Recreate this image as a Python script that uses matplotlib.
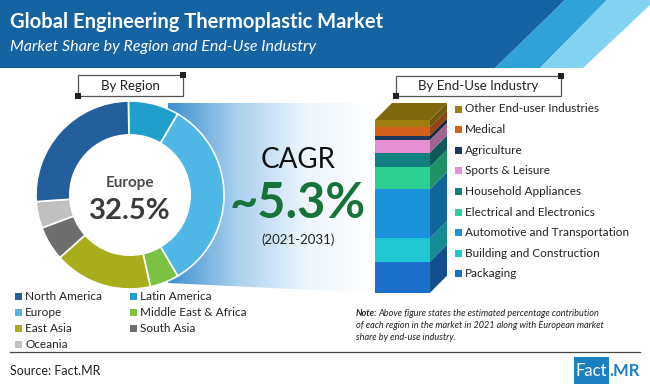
import numpy as np
import matplotlib
matplotlib.use("Agg")
import matplotlib.pyplot as plt
from matplotlib.patches import Polygon, Rectangle, Circle
import matplotlib.colors as mcolors

# ---------------- data ----------------
regions = ["Latin America", "Europe", "Middle East & Africa", "East Asia",
           "South Asia", "Oceania", "North America"]
region_share = [8.6, 32.5, 4.9, 16.6, 5.8, 4.5, 25.4]
region_colors = ["#1f9fca", "#4fb7e6", "#7cc242", "#a8ad1c", "#6e6e6e", "#c0c0c0", "#23609b"]

legend_col1 = ["North America", "Europe", "East Asia", "Oceania"]
legend_col2 = ["Latin America", "Middle East & Africa", "South Asia"]

industries = ["Packaging", "Building and Construction", "Automotive and Transportation",
              "Electrical and Electronics", "Household Appliances", "Sports & Leisure",
              "Agriculture", "Medical", "Other End-user Industries"]
industry_share = [18.0, 13.5, 28.4, 13.1, 8.1, 7.3, 2.5, 4.8, 4.2]
industry_colors = ["#1c6fca", "#20c6d2", "#1a93dc", "#2dcf92", "#12807f", "#e48fd2",
                   "#1d3a5e", "#d4601b", "#a07f10"]

highlight = "Europe"
highlight_value = "32.5%"
cagr_text = "~5.3%"
cagr_period = "(2021-2031)"

W, H = 650, 388
fig = plt.figure(figsize=(W / 100, H / 100), dpi=100)
fig.patch.set_facecolor("white")
renderer = fig.canvas.get_renderer()

FONT = "Lato"

def frac(x0, y0, w, h):
    """pixel rect (top-left origin) -> figure fraction rect"""
    return [x0 / W, 1 - (y0 + h) / H, w / W, h / H]

# background axes in pixel coordinates
bg = fig.add_axes([0, 0, 1, 1])
bg.set_xlim(0, W)
bg.set_ylim(H, 0)
bg.axis("off")

# header
bg.add_patch(Polygon([(0, 0), (565, 0), (495, 68), (0, 68)], closed=True, fc="#1663a3", ec="none"))
bg.add_patch(Polygon([(565, 0), (607, 0), (540, 68), (495, 68)], closed=True, fc="#2fa2d8", ec="none"))
bg.add_patch(Polygon([(607, 0), (650, 0), (650, 5), (583, 68), (540, 68)], closed=True, fc="#84d2f1", ec="none"))
bg.text(10, 22, "Global Engineering Thermoplastic Market", color="white", fontsize=14.5,
        fontweight="bold", family=FONT, va="center", ha="left")
bg.text(10, 47, "Market Share by Region and End-Use Industry", color="white", fontsize=11.5,
        style="italic", family=FONT, va="center", ha="left")

# gradient band (funnel) between donut and bar
grad = np.linspace(0, 1, 256)[None, :]
cmap = mcolors.LinearSegmentedColormap.from_list("g", ["#3d8fcf", "#a9d1ee", "#eef6fc", "#ffffff"])
im = bg.imshow(grad, extent=[168, 376, 300, 100], cmap=cmap, aspect="auto", zorder=0)
band = Polygon([(168, 103), (376, 103), (376, 293), (168, 283)], closed=True, fc="none", ec="none")
bg.add_patch(band)
im.set_clip_path(band)
bg.set_xlim(0, W)
bg.set_ylim(H, 0)

# title boxes
def title_box(x0, y0, x1, y1, text):
    bg.add_patch(Rectangle((x0, y0), x1 - x0, y1 - y0, fc="white", ec="#555555", lw=0.9, zorder=3))
    bg.add_patch(Rectangle((x1 - 3, y0 - 3), 6, 6, fc="#222222", ec="none", zorder=4))
    bg.add_patch(Rectangle((x0 - 3, y1 - 3), 6, 6, fc="#222222", ec="none", zorder=4))
    bg.text((x0 + x1) / 2, (y0 + y1) / 2 + 0.5, text, ha="center", va="center", fontsize=9.5,
            family=FONT, color="#222222", zorder=5)

title_box(78, 75, 183, 96, "By Region")
title_box(396, 76, 561, 96, "By End-Use Industry")

# CAGR texts
bg.text(298, 160, "CAGR", ha="center", va="center", fontsize=20, family=FONT, color="#111111")
bg.text(298, 204, cagr_text, ha="center", va="center", fontsize=35, family=FONT,
        fontweight="bold", color="#17733a")
bg.text(298, 240, cagr_period, ha="center", va="center", fontsize=9.5, family=FONT, color="#222222")

# region legend
for i, name in enumerate(legend_col1):
    y = 296 + i * 16.2
    c = region_colors[regions.index(name)]
    bg.add_patch(Rectangle((15, y - 3.5), 7, 7, fc=c, ec="none"))
    bg.text(25, y, name, va="center", ha="left", fontsize=8.5, family=FONT, color="#222222")
for i, name in enumerate(legend_col2):
    y = 296 + i * 16.2
    c = region_colors[regions.index(name)]
    bg.add_patch(Rectangle((130, y - 3.5), 7, 7, fc=c, ec="none"))
    bg.text(140, y, name, va="center", ha="left", fontsize=8.5, family=FONT, color="#222222")

# industry legend (top to bottom = reversed stack order)
for i, (name, c) in enumerate(zip(industries[::-1], industry_colors[::-1])):
    y = 109 + i * 20.6
    bg.add_patch(Rectangle((455, y - 3.5), 7, 7, fc=c, ec="none"))
    bg.text(465, y, name, va="center", ha="left", fontsize=8.5, family=FONT, color="#222222")

# note
note_kw = dict(va="center", ha="left", fontsize=6.6, family=FONT, style="italic", color="#222222")
t_note = bg.text(356, 313, "Note:", fontweight="bold", **note_kw)
ext = t_note.get_window_extent(renderer=renderer)
note_w = ext.width * 650 / (fig.get_figwidth() * fig.dpi)
bg.text(356 + note_w + 1, 313, "Above figure states the estimated percentage contribution", **note_kw)
bg.text(356, 325.5, "of each region in the market in 2021 along with European market", **note_kw)
bg.text(356, 338, "share by end-use industry.", **note_kw)

# separator line & footer
bg.plot([10, 640], [352, 352], color="#444444", lw=0.9)
bg.text(10, 371, "Source: Fact.MR", va="center", ha="left", fontsize=9, family=FONT, color="#222222")
bg.add_patch(Rectangle((574, 357), 35, 27, fc="#1a80c2", ec="none"))
bg.text(591.5, 371, "Fact", va="center", ha="center", fontsize=12, family=FONT, color="white")
bg.text(609.5, 371, ".MR", va="center", ha="left", fontsize=12, family=FONT, fontweight="bold", color="#1a80c2")

# ---------------- donut ----------------
cx, cy, R = 130, 195, 94
dax = fig.add_axes(frac(cx - R, cy - R, 2 * R, 2 * R))
dax.add_patch(Circle((0, 0), 0.66, fc="white", ec="none", zorder=0))
dax.pie(region_share, colors=region_colors, startangle=91, counterclock=False, radius=1,
        wedgeprops=dict(width=0.36, edgecolor="white", linewidth=1.2))
dax.set_xlim(-1, 1)
dax.set_ylim(-1, 1)
dax.axis("off")
dax.text(0, 0.13, highlight, ha="center", va="center", fontsize=11, family=FONT,
         fontweight="bold", color="#4a4a4a")
dax.text(0, -0.17, highlight_value, ha="center", va="center", fontsize=21, family=FONT,
         fontweight="bold", color="#3a3a3a")

# ---------------- 3D stacked bar ----------------
px_left, px_right, px_top, px_bot = 375, 430, 120, 292.7
ax_x0, ax_x1, ax_y0, ax_y1 = 365, 460, 95, 300
bax = fig.add_axes(frac(ax_x0, ax_y0, ax_x1 - ax_x0, ax_y1 - ax_y0))
unit_x = px_right - px_left
unit_y = (px_bot - px_top) / sum(industry_share)
bax.set_xlim(-(px_left - ax_x0) / unit_x, 1 + (ax_x1 - px_right) / unit_x)
bax.set_ylim(-(ax_y1 - px_bot) / unit_y, sum(industry_share) + (px_top - ax_y0) / unit_y)
bax.axis("off")
dx = 17 / unit_x
dy = 17 / unit_y

def darker(c, f):
    r, g, b = mcolors.to_rgb(c)
    return (r * f, g * f, b * f)

bottoms = np.concatenate([[0], np.cumsum(industry_share)[:-1]])
bax.bar([0.5] * len(industry_share), industry_share, width=1, bottom=bottoms,
        color=industry_colors, edgecolor="none", zorder=2)
for b, v, c in zip(bottoms, industry_share, industry_colors):
    side = Polygon([(1, b), (1 + dx, b + dy), (1 + dx, b + v + dy), (1, b + v)],
                   closed=True, fc=darker(c, 0.7), ec="none", zorder=1)
    bax.add_patch(side)
top_total = sum(industry_share)
bax.add_patch(Polygon([(0, top_total), (1, top_total), (1 + dx, top_total + dy), (dx, top_total + dy)],
                      closed=True, fc=darker(industry_colors[-1], 0.8), ec="none", zorder=1))

fig.savefig("out.png", dpi=100, facecolor="white")
